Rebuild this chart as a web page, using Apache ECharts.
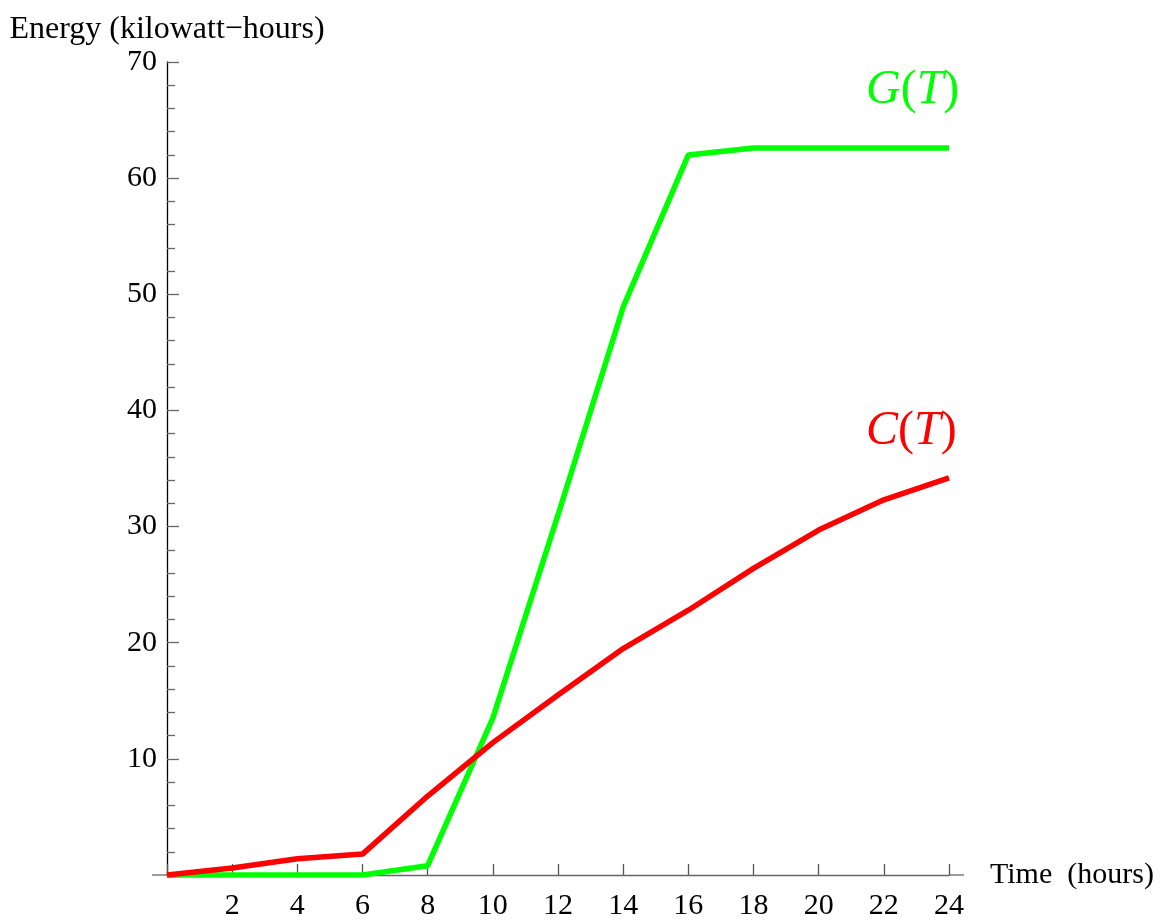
<!DOCTYPE html>
<html>
<head>
<meta charset="utf-8">
<script src="https://cdn.jsdelivr.net/npm/echarts@6/dist/echarts.min.js"></script>
<style>html,body{margin:0;padding:0;background:#fff}#c{width:1163px;height:921px}</style>
</head>
<body>
<div id="c"></div>
<script>
const hours = [0, 2, 4, 6, 8, 10, 12, 14, 16, 18, 20, 22, 24];
const generated = [0, 0, 0, 0, 0.8, 13.5, 31.0, 48.9, 62.0, 62.6, 62.6, 62.6, 62.6];
const consumed = [0, 0.6, 1.4, 1.8, 6.8, 11.4, 15.5, 19.5, 22.8, 26.4, 29.7, 32.3, 34.2];
const xTicks = [2, 4, 6, 8, 10, 12, 14, 16, 18, 20, 22, 24];
const yTicks = [10, 20, 30, 40, 50, 60, 70];

const FONT = '"Liberation Serif", "DejaVu Serif", serif';
const chart = echarts.init(document.getElementById('c'), null, {renderer: 'canvas'});

const option = {
  backgroundColor: '#ffffff',
  animation: false,
  grid: {left: 167, right: 214, top: 62, bottom: 46, containLabel: false},
  xAxis: {
    type: 'value', min: 0, max: 24, interval: 2,
    name: 'Time  (hours)', nameLocation: 'end', nameGap: 41,
    nameTextStyle: {fontFamily: FONT, fontSize: 30, color: '#000', verticalAlign: 'middle', align: 'left', padding: [6, 0, 0, 0]},
    axisLine: {show: true, onZero: false, lineStyle: {color: '#666', width: 1.3}},
    axisTick: {show: true, inside: true, length: 11, lineStyle: {color: '#555', width: 1.3}},
    minorTick: {show: false},
    splitLine: {show: false},
    axisLabel: {
      fontFamily: FONT, fontSize: 30, color: '#000', margin: 16,
      formatter: v => (xTicks.indexOf(v) >= 0 ? String(v) : '')
    }
  },
  yAxis: {
    type: 'value', min: 0, max: 70, interval: 10,
    name: 'Energy (kilowatt\u2212hours)', nameLocation: 'end', nameGap: 16,
    nameTextStyle: {fontFamily: FONT, fontSize: 32, color: '#000', align: 'center'},
    axisLine: {show: true, lineStyle: {color: '#000', width: 1.3}},
    axisTick: {show: true, inside: true, length: 12, lineStyle: {color: '#666', width: 1.3}},
    minorTick: {show: true, splitNumber: 5, length: 8, lineStyle: {color: '#666', width: 1.3}},
    splitLine: {show: false},
    axisLabel: {
      fontFamily: FONT, fontSize: 30, color: '#000', margin: 10,
      formatter: v => (yTicks.indexOf(v) >= 0 ? String(v) : '')
    }
  },
  series: [
    {
      name: 'G(T)', type: 'line', data: hours.map((h, i) => [h, generated[i]]),
      symbol: 'none', smooth: false, clip: false,
      lineStyle: {color: '#00ff00', width: 5.5}, z: 3
    },
    {
      name: 'C(T)', type: 'line', data: hours.map((h, i) => [h, consumed[i]]),
      symbol: 'none', smooth: false, clip: false,
      lineStyle: {color: '#ff0000', width: 5.5}, z: 4
    }
  ]
};
chart.setOption(option);

// Curve labels and axis-line extension, placed via the chart's own scales
const pG = chart.convertToPixel({gridIndex: 0}, [24, generated[generated.length - 1]]);
const pC = chart.convertToPixel({gridIndex: 0}, [24, consumed[consumed.length - 1]]);
const p0 = chart.convertToPixel({gridIndex: 0}, [0, 0]);
const pEnd = chart.convertToPixel({gridIndex: 0}, [24, 0]);

function curveLabel(letter, color, x, y) {
  return {
    type: 'text', left: x, top: y, z: 10,
    style: {
      text: '{i|' + letter + '}{n|(}{i|T}{n|)}',
      rich: {
        i: {fontFamily: FONT, fontSize: 48, fontStyle: 'italic', fill: color, color: color},
        n: {fontFamily: FONT, fontSize: 48, fill: color, color: color}
      },
      fill: color
    }
  };
}

chart.setOption({
  graphic: [
    {type: 'line', shape: {x1: p0[0] - 15, y1: p0[1], x2: p0[0], y2: p0[1]}, style: {stroke: '#666', lineWidth: 1.3}},
    {type: 'line', shape: {x1: pEnd[0], y1: pEnd[1], x2: pEnd[0] + 15, y2: pEnd[1]}, style: {stroke: '#666', lineWidth: 1.3}},
    curveLabel('G', '#00ff00', pG[0] - 83, pG[1] - 82),
    curveLabel('C', '#ff0000', pC[0] - 83, pC[1] - 70)
  ]
});
</script>
</body>
</html>
